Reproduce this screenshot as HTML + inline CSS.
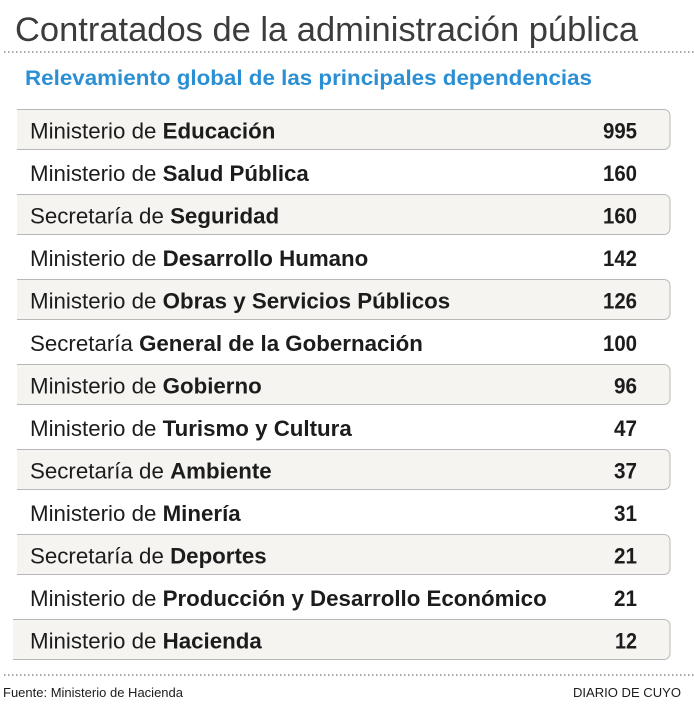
<!DOCTYPE html>
<html>
<head>
<meta charset="utf-8">
<style>
  html,body{margin:0;padding:0;background:#fff;}
  svg{display:block;}
  text{font-family:"Liberation Sans", Arial, sans-serif;}
</style>
</head>
<body>
<svg width="694" height="709" viewBox="0 0 694 709" xmlns="http://www.w3.org/2000/svg">
  <rect width="694" height="709" fill="#fff"/>
  <!-- Title -->
  <text x="15" y="41" font-size="34.5" fill="#3c3c3c" textLength="623" lengthAdjust="spacingAndGlyphs">Contratados de la administración pública</text>
  <line x1="4" y1="52" x2="694" y2="52" stroke="#8a8a8a" stroke-width="1.5" stroke-dasharray="1.5,2.5"/>
  <!-- Subtitle -->
  <text x="25" y="85" font-size="21.5" font-weight="bold" fill="#2b8fd4" textLength="567" lengthAdjust="spacingAndGlyphs">Relevamiento global de las principales dependencias</text>

  <!-- Shaded boxes (rows 1,3,5,7,9,11,13) -->
  <g fill="#f5f4f1" stroke="#b8b8b8" stroke-width="1">
    <path d="M17,109.5 H664 A6,6 0 0 1 670,115.5 V143.5 A6,6 0 0 1 664,149.5 H17" />
    <path d="M17,194.5 H664 A6,6 0 0 1 670,200.5 V228.5 A6,6 0 0 1 664,234.5 H17" />
    <path d="M17,279.5 H664 A6,6 0 0 1 670,285.5 V313.5 A6,6 0 0 1 664,319.5 H17" />
    <path d="M17,364.5 H664 A6,6 0 0 1 670,370.5 V398.5 A6,6 0 0 1 664,404.5 H17" />
    <path d="M17,449.5 H664 A6,6 0 0 1 670,455.5 V483.5 A6,6 0 0 1 664,489.5 H17" />
    <path d="M17,534.5 H664 A6,6 0 0 1 670,540.5 V568.5 A6,6 0 0 1 664,574.5 H17" />
    <path d="M13,619.5 H664 A6,6 0 0 1 670,625.5 V653.5 A6,6 0 0 1 664,659.5 H13" />
  </g>

  <!-- Row labels -->
  <g font-size="22.3" fill="#1c1c1c">
    <text x="30" y="138.3">Ministerio de <tspan font-weight="bold">Educación</tspan></text>
    <text x="30" y="180.8">Ministerio de <tspan font-weight="bold">Salud Pública</tspan></text>
    <text x="30" y="223.3">Secretaría de <tspan font-weight="bold">Seguridad</tspan></text>
    <text x="30" y="265.8">Ministerio de <tspan font-weight="bold">Desarrollo Humano</tspan></text>
    <text x="30" y="308.3">Ministerio de <tspan font-weight="bold">Obras y Servicios Públicos</tspan></text>
    <text x="30" y="350.8">Secretaría <tspan font-weight="bold">General de la Gobernación</tspan></text>
    <text x="30" y="393.3">Ministerio de <tspan font-weight="bold">Gobierno</tspan></text>
    <text x="30" y="435.8">Ministerio de <tspan font-weight="bold">Turismo y Cultura</tspan></text>
    <text x="30" y="478.3">Secretaría de <tspan font-weight="bold">Ambiente</tspan></text>
    <text x="30" y="520.8">Ministerio de <tspan font-weight="bold">Minería</tspan></text>
    <text x="30" y="563.3">Secretaría de <tspan font-weight="bold">Deportes</tspan></text>
    <text x="30" y="605.8">Ministerio de <tspan font-weight="bold">Producción y Desarrollo Económico</tspan></text>
    <text x="30" y="648.3">Ministerio de <tspan font-weight="bold">Hacienda</tspan></text>
  </g>

  <!-- Values -->
  <g font-size="22.5" font-weight="bold" fill="#1c1c1c" lengthAdjust="spacingAndGlyphs">
    <text x="603" y="138.3" textLength="34" lengthAdjust="spacingAndGlyphs">995</text>
    <text x="603" y="180.8" textLength="34" lengthAdjust="spacingAndGlyphs">160</text>
    <text x="603" y="223.3" textLength="34" lengthAdjust="spacingAndGlyphs">160</text>
    <text x="603" y="265.8" textLength="34" lengthAdjust="spacingAndGlyphs">142</text>
    <text x="603" y="308.3" textLength="34" lengthAdjust="spacingAndGlyphs">126</text>
    <text x="603" y="350.8" textLength="34" lengthAdjust="spacingAndGlyphs">100</text>
    <text x="614" y="393.3" textLength="23" lengthAdjust="spacingAndGlyphs">96</text>
    <text x="614" y="435.8" textLength="23" lengthAdjust="spacingAndGlyphs">47</text>
    <text x="614" y="478.3" textLength="23" lengthAdjust="spacingAndGlyphs">37</text>
    <text x="614" y="520.8" textLength="23" lengthAdjust="spacingAndGlyphs">31</text>
    <text x="614" y="563.3" textLength="23" lengthAdjust="spacingAndGlyphs">21</text>
    <text x="614" y="605.8" textLength="23" lengthAdjust="spacingAndGlyphs">21</text>
    <text x="615" y="648.3" textLength="22" lengthAdjust="spacingAndGlyphs">12</text>
  </g>

  <!-- Footer -->
  <line x1="4" y1="675" x2="694" y2="675" stroke="#8a8a8a" stroke-width="1.5" stroke-dasharray="1.5,2.5"/>
  <text x="3" y="697" font-size="13" fill="#1c1c1c" textLength="180" lengthAdjust="spacingAndGlyphs">Fuente: Ministerio de Hacienda</text>
  <text x="573" y="697" font-size="12.5" fill="#1c1c1c" textLength="108" lengthAdjust="spacingAndGlyphs">DIARIO DE CUYO</text>
</svg>
</body>
</html>
